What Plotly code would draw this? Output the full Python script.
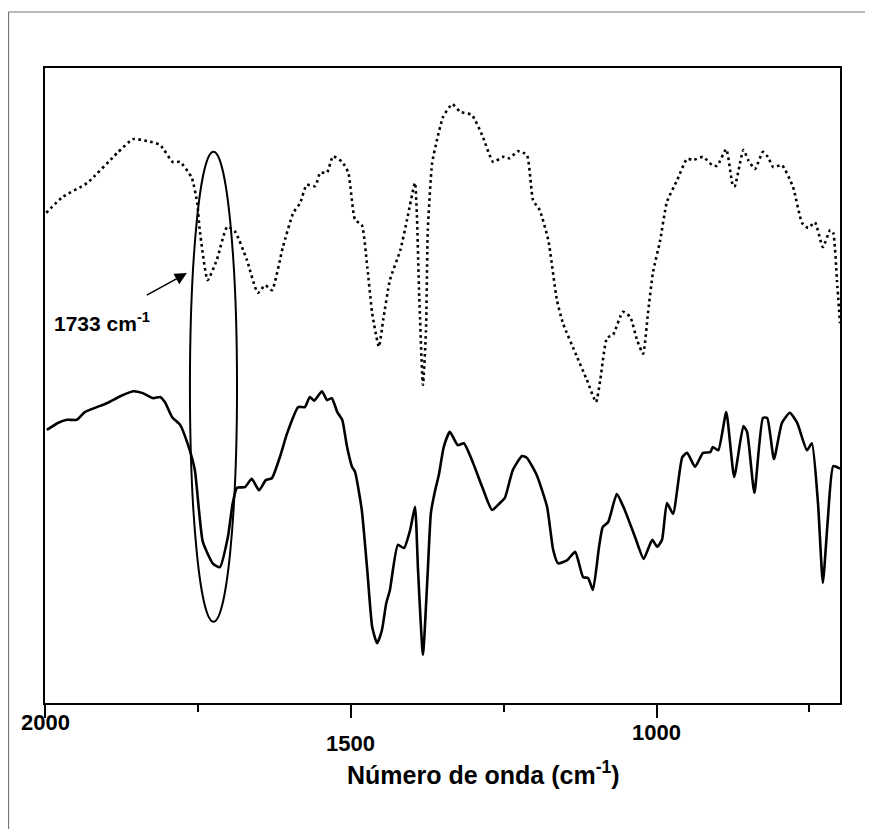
import plotly.graph_objects as go

# Upper spectrum (dotted) - wavenumber (cm-1) and transmittance (a.u.)
wn_top = [1998, 1971, 1931, 1882, 1856, 1833, 1812, 1791, 1779, 1760, 1751, 1747, 1734, 1719, 1702,
          1689, 1670, 1652, 1640, 1629, 1611, 1594, 1583, 1572, 1558, 1550, 1539, 1529, 1514, 1504,
          1493, 1482, 1473, 1465, 1454, 1447, 1436, 1419, 1408, 1395, 1392, 1388, 1382, 1377, 1374,
          1367, 1359, 1349, 1334, 1321, 1302, 1285, 1267, 1251, 1240, 1227, 1212, 1202, 1191, 1177,
          1163, 1153, 1130, 1114, 1099, 1092, 1081, 1071, 1055, 1043, 1032, 1022, 1014, 1006, 994,
          983, 966, 950, 940, 924, 909, 901, 886, 875, 872, 858, 850, 839, 826, 818,
          809, 795, 777, 762, 752, 741, 728, 716, 711, 705, 700]
t_top = [77.2, 79.7, 81.9, 86.6, 88.8, 88.5, 87.9, 85.2, 85.2, 82.7, 78.7, 74.5, 66.6, 69.8, 75.0,
         74.2, 69.8, 64.6, 65.8, 65.0, 71.8, 77.2, 78.7, 81.6, 81.4, 83.5, 83.5, 86.1, 85.2, 83.5,
         76.1, 75.3, 68.7, 61.4, 56.1, 60.3, 66.6, 71.3, 76.1, 81.9, 77.2, 63.9, 50.1, 58.7, 74.5,
         85.0, 88.7, 92.3, 94.3, 93.1, 92.6, 89.4, 85.2, 86.0, 85.8, 86.9, 86.3, 79.2, 77.6, 72.9,
         63.5, 59.8, 54.5, 50.9, 47.4, 50.9, 57.5, 58.0, 61.6, 60.8, 57.2, 55.0, 61.4, 67.7, 72.9,
         78.9, 82.4, 85.7, 85.5, 86.0, 84.7, 84.6, 87.2, 81.4, 81.4, 87.1, 85.5, 84.1, 86.8, 86.0,
         84.4, 84.7, 81.3, 75.6, 74.8, 75.7, 71.8, 74.5, 74.0, 66.6, 59.8]

# Lower spectrum (solid)
wn_bot = [1997, 1979, 1964, 1948, 1935, 1915, 1899, 1877, 1856, 1840, 1823, 1812, 1804, 1792, 1779,
          1766, 1755, 1742, 1725, 1714, 1701, 1693, 1686, 1673, 1662, 1650, 1639, 1629, 1616, 1604,
          1586, 1575, 1567, 1560, 1547, 1539, 1531, 1522, 1514, 1506, 1498, 1493, 1482, 1473, 1465,
          1457, 1449, 1442, 1436, 1423, 1413, 1403, 1395, 1390, 1382, 1374, 1369, 1362, 1356, 1348,
          1338, 1325, 1315, 1300, 1285, 1269, 1256, 1248, 1235, 1220, 1212, 1196, 1179, 1169, 1161,
          1146, 1133, 1120, 1112, 1104, 1094, 1088, 1079, 1065, 1052, 1035, 1021, 1007, 999, 991,
          983, 973, 958, 950, 937, 924, 912, 908, 899, 886, 873, 858, 852, 840, 826,
          819, 808, 795, 782, 770, 754, 746, 736, 728, 720, 711, 700]
t_bot = [43.0, 44.1, 44.6, 44.6, 45.8, 46.6, 47.2, 48.3, 49.1, 48.8, 48.0, 48.2, 47.4, 45.0, 43.8,
         40.6, 36.7, 25.4, 21.9, 21.4, 26.1, 31.5, 33.9, 34.0, 35.3, 33.5, 35.1, 35.4, 38.7, 42.5,
         46.6, 46.6, 48.2, 47.6, 49.1, 47.7, 48.0, 45.8, 44.6, 40.3, 37.2, 36.4, 30.4, 20.9, 12.0,
         9.4, 11.5, 15.7, 17.8, 24.9, 24.4, 27.2, 30.9, 20.9, 7.6, 20.9, 29.9, 33.5, 35.9, 40.3,
         42.7, 40.6, 40.9, 37.8, 34.0, 30.4, 31.5, 32.3, 36.7, 38.9, 38.6, 35.9, 30.9, 24.1, 22.0,
         22.5, 23.8, 19.8, 19.7, 17.8, 24.6, 27.7, 28.5, 32.9, 30.4, 26.1, 22.7, 25.7, 24.6, 25.7,
         31.5, 29.8, 38.7, 39.4, 37.2, 39.4, 39.5, 40.3, 39.8, 45.8, 35.6, 43.6, 42.7, 33.1, 44.9,
         44.9, 38.4, 44.1, 45.7, 44.1, 39.8, 40.9, 31.5, 18.9, 28.8, 37.3, 36.9]

tick_vals = [2000, 1500, 1000]
tick_text = ["2000", "1500", "1000"]
tick_label_y = [-0.030, -0.063, -0.046]

band_label = "1733 cm<sup>-1</sup>"
x_title = "Número de onda (cm<sup>-1</sup>)"

FONT = "Liberation Sans, Arial, sans-serif"

fig = go.Figure()
fig.add_trace(go.Scatter(x=wn_top, y=t_top, mode="lines",
                         line=dict(color="black", width=2.6, dash="2.6px,3.4px", shape="spline", smoothing=0.5),
                         hoverinfo="skip", showlegend=False))
fig.add_trace(go.Scatter(x=wn_bot, y=t_bot, mode="lines",
                         line=dict(color="black", width=2.6, shape="spline", smoothing=0.5),
                         hoverinfo="skip", showlegend=False))

# ellipse around the carbonyl band
fig.add_shape(type="circle", xref="x", yref="y", x0=1763, x1=1686, y0=12.8, y1=86.8,
              line=dict(color="black", width=2))

# arrow
fig.add_annotation(x=1768, y=67.7, ax=1836, ay=64.1, xref="x", yref="y", axref="x", ayref="y",
                   text="", showarrow=True, arrowhead=2, arrowsize=1.5, arrowwidth=1.6, arrowcolor="black")
fig.add_annotation(x=1907, y=60.0, xref="x", yref="y", text="<b>" + band_label + "</b>",
                   showarrow=False, font=dict(family=FONT, size=21, color="black"))

# staggered tick labels
for v, t, yy in zip(tick_vals, tick_text, tick_label_y):
    fig.add_annotation(x=v, y=yy, xref="x", yref="paper", text="<b>" + t + "</b>", showarrow=False,
                       xanchor="center", yanchor="middle", font=dict(family=FONT, size=22, color="black"))

fig.add_annotation(x=0.551, y=-0.110, xref="paper", yref="paper", text="<b>" + x_title + "</b>",
                   showarrow=False, xanchor="center", yanchor="middle",
                   font=dict(family=FONT, size=25, color="black"))

# outer thin border (top and left)
fig.add_shape(type="line", xref="paper", yref="paper", x0=-0.0459, x1=1.06, y0=1.0882, y1=1.0882,
              line=dict(color="#777777", width=1.2))
fig.add_shape(type="line", xref="paper", yref="paper", x0=-0.0459, x1=-0.0459, y0=1.0882, y1=-0.22,
              line=dict(color="#777777", width=1.2))

fig.update_xaxes(range=[2000, 700], showgrid=False, zeroline=False, showline=True, linecolor="black",
                 linewidth=2.2, mirror=True, ticks="outside", tickvals=[2000, 1500, 1000],
                 ticklen=13, tickwidth=2, tickcolor="black", showticklabels=False,
                 minor=dict(tickvals=[1750, 1250, 750], ticks="outside", ticklen=7, tickwidth=2, tickcolor="black"))
fig.update_yaxes(range=[0, 100], showgrid=False, zeroline=False, showline=True, linecolor="black",
                 linewidth=2.2, mirror=True, ticks="", showticklabels=False)

fig.update_layout(width=873, height=829, margin=dict(l=37, r=41, t=60, b=134),
                  paper_bgcolor="white", plot_bgcolor="white")

fig.write_html("out.html")
